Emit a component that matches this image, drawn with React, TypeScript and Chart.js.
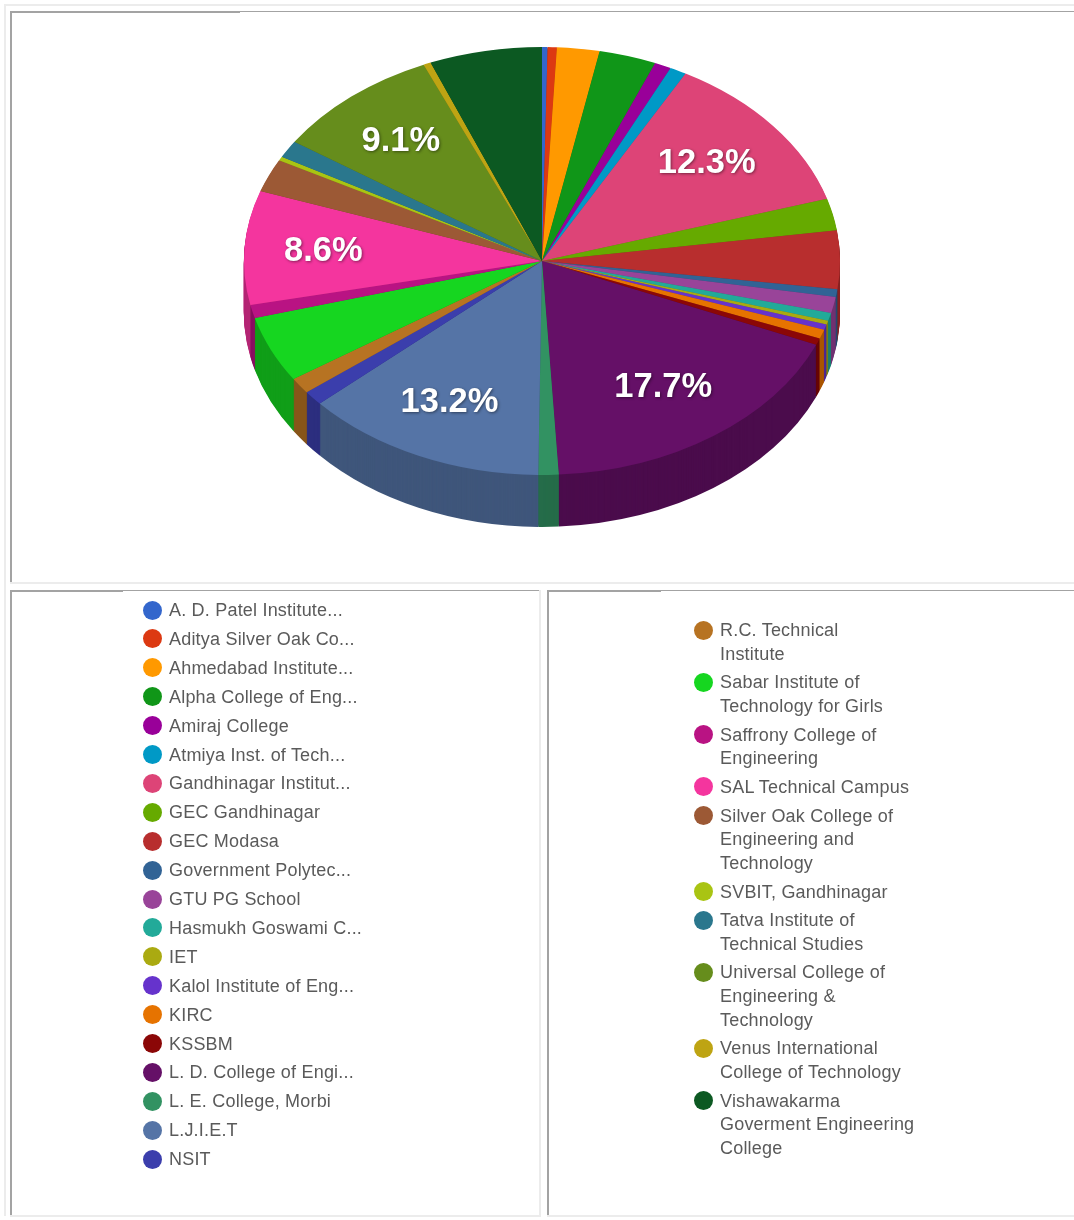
import React, { useEffect, useRef } from "react";
import { Chart, registerables } from "chart.js";

Chart.register(...registerables);

const legendLeft: string[] = [
  "A. D. Patel Institute...",
  "Aditya Silver Oak Co...",
  "Ahmedabad Institute...",
  "Alpha College of Eng...",
  "Amiraj College",
  "Atmiya Inst. of Tech...",
  "Gandhinagar Institut...",
  "GEC Gandhinagar",
  "GEC Modasa",
  "Government Polytec...",
  "GTU PG School",
  "Hasmukh Goswami C...",
  "IET",
  "Kalol Institute of Eng...",
  "KIRC",
  "KSSBM",
  "L. D. College of Engi...",
  "L. E. College, Morbi",
  "L.J.I.E.T",
  "NSIT",
];

const legendRight: string[][] = [
  ["R.C. Technical", "Institute"],
  ["Sabar Institute of", "Technology for Girls"],
  ["Saffrony College of", "Engineering"],
  ["SAL Technical Campus"],
  ["Silver Oak College of", "Engineering and", "Technology"],
  ["SVBIT, Gandhinagar"],
  ["Tatva Institute of", "Technical Studies"],
  ["Universal College of", "Engineering &", "Technology"],
  ["Venus International", "College of Technology"],
  ["Vishawakarma", "Goverment Engineering", "College"],
];

const categories: string[] = [...legendLeft, ...legendRight.map((l) => l.join(" "))];

const shares: number[] = [
  0.3, 0.5, 2.3, 3.1, 0.9, 0.9, 12.3, 2.4, 4.4, 0.6, 1.2, 0.6, 0.3, 0.4, 0.7, 0.5, 17.7, 1.1, 13.2, 1.1,
  1.2, 5.0, 1.0, 8.6, 2.5, 0.3, 1.3, 9.1, 0.4, 6.1,
];

const colors: string[] = [
  "#3366cc", "#dc3912", "#ff9900", "#109618", "#990099", "#0099c6", "#dd4477", "#66aa00", "#b82e2e", "#316395",
  "#994499", "#22aa99", "#aaaa11", "#6633cc", "#e67300", "#8b0707", "#651067", "#329262", "#5574a6", "#3b3eac",
  "#b77322", "#16d620", "#b91383", "#f4359e", "#9c5935", "#a9c413", "#2a778d", "#668d1c", "#bea413", "#0c5922",
];

const TILT = 0.718;
const DEPTH = 52;
const SHADE = 0.74;
const LABEL_MIN = 8;

function darken(hex: string, f: number): string {
  const n = parseInt(hex.slice(1), 16);
  return `rgb(${((n >> 16) & 255) * f},${((n >> 8) & 255) * f},${(n & 255) * f})`;
}

const tiltPlugin = {
  id: "tilt",
  beforeDatasetsDraw(chart: any) {
    const ctx = chart.ctx;
    const arcs = chart.getDatasetMeta(0).data;
    const cy = arcs[0].y;
    ctx.save();
    for (let d = DEPTH; d >= 1; d--) {
      ctx.save();
      ctx.translate(0, cy + d);
      ctx.scale(1, TILT);
      ctx.translate(0, -cy);
      arcs.forEach((a: any, i: number) => {
        ctx.beginPath();
        ctx.moveTo(a.x, a.y);
        ctx.arc(a.x, a.y, a.outerRadius, a.startAngle, a.endAngle);
        ctx.closePath();
        ctx.fillStyle = darken(colors[i], SHADE);
        ctx.fill();
      });
      ctx.restore();
    }
    ctx.translate(0, cy);
    ctx.scale(1, TILT);
    ctx.translate(0, -cy);
  },
  afterDatasetsDraw(chart: any) {
    const ctx = chart.ctx;
    ctx.restore();
    const arcs = chart.getDatasetMeta(0).data;
    ctx.save();
    ctx.font = "bold 34.5px 'Liberation Sans', Arial, sans-serif";
    ctx.textAlign = "center";
    ctx.textBaseline = "middle";
    ctx.fillStyle = "#ffffff";
    ctx.shadowColor = "rgba(0,0,0,0.45)";
    ctx.shadowBlur = 3;
    ctx.shadowOffsetX = 1;
    ctx.shadowOffsetY = 1;
    arcs.forEach((a: any, i: number) => {
      if (shares[i] < LABEL_MIN) return;
      const mid = (a.startAngle + a.endAngle) / 2;
      const r = a.outerRadius * 0.725;
      ctx.fillText(`${shares[i].toFixed(1)}%`, a.x - 3 + Math.cos(mid) * r, a.y + Math.sin(mid) * r * TILT);
    });
    ctx.restore();
  },
};

const font = "'Liberation Sans', Arial, sans-serif";
const GREY = "#a3a3a3";
const LIGHT = "#ececec";

function Rule({ x, y, w, h, c }: { x: number; y: number; w: number; h: number; c: string }) {
  return <div style={{ position: "absolute", left: x, top: y, width: w, height: h, background: c }} />;
}

function Dot({ x, y, c }: { x: number; y: number; c: string }) {
  return (
    <div
      style={{ position: "absolute", left: x - 9.5, top: y - 9.5, width: 19, height: 19, borderRadius: "50%", background: c }}
    />
  );
}

function Line({ x, y, t }: { x: number; y: number; t: string }) {
  return (
    <div
      style={{
        position: "absolute",
        left: x,
        top: y - 12,
        height: 24,
        lineHeight: "24px",
        whiteSpace: "nowrap",
        fontFamily: font,
        fontSize: 18,
        letterSpacing: 0.2,
        color: "#5a5a5a",
      }}
    >
      {t}
    </div>
  );
}

function rightLegend() {
  const out: React.ReactNode[] = [];
  let y = 630;
  legendRight.forEach((lines, i) => {
    out.push(<Dot key={`d${i}`} x={703} y={y} c={colors[legendLeft.length + i]} />);
    lines.forEach((t, j) => {
      out.push(<Line key={`l${i}-${j}`} x={720} y={y} t={t} />);
      if (j < lines.length - 1) y += 23.7;
    });
    y += 28.6;
  });
  return out;
}

export default function App() {
  const ref = useRef<HTMLCanvasElement>(null);
  useEffect(() => {
    const chart = new Chart(ref.current as HTMLCanvasElement, {
      type: "pie",
      data: {
        labels: categories,
        datasets: [
          { data: shares, backgroundColor: colors, borderWidth: 0, radius: 298, clip: false } as any,
        ],
      },
      options: {
        animation: false,
        responsive: false,
        devicePixelRatio: 1,
        events: [],
        layout: { padding: { bottom: 74 } },
        plugins: { legend: { display: false }, tooltip: { enabled: false } },
      },
      plugins: [tiltPlugin as any],
    });
    return () => chart.destroy();
  }, []);

  return (
    <div style={{ position: "absolute", left: 0, top: 0, width: 1074, height: 1220, overflow: "hidden", background: "#fff" }}>
      <Rule x={4} y={4} w={1070} h={2} c={LIGHT} />
      <Rule x={4} y={4} w={2} h={1212} c={LIGHT} />
      <Rule x={10} y={11} w={230} h={2} c={GREY} />
      <Rule x={240} y={11} w={608} h={1} c={GREY} />
      <Rule x={848} y={11} w={226} h={1} c={GREY} />
      <Rule x={10} y={11} w={2} h={572} c={GREY} />
      <Rule x={10} y={582} w={1064} h={2} c={LIGHT} />

      <Rule x={10} y={590} w={113} h={2} c={GREY} />
      <Rule x={123} y={590} w={417} h={1} c={GREY} />
      <Rule x={10} y={590} w={2} h={626} c={GREY} />
      <Rule x={539} y={590} w={2} h={626} c={LIGHT} />
      <Rule x={10} y={1215} w={531} h={2} c={LIGHT} />

      <Rule x={548} y={590} w={113} h={2} c={GREY} />
      <Rule x={661} y={590} w={413} h={1} c={GREY} />
      <Rule x={547} y={590} w={2} h={626} c={GREY} />
      <Rule x={547} y={1215} w={527} h={2} c={LIGHT} />

      <canvas
        ref={ref}
        width={1064}
        height={570}
        style={{ position: "absolute", left: 10, top: 13, width: 1064, height: 570, filter: "blur(0.6px)" }}
      />
      <div style={{ position: "absolute", inset: 0, filter: "blur(0.6px)" }}>
        {legendLeft.map((t, i) => {
          const y = 610 + i * 28.9;
          return (
            <React.Fragment key={t}>
              <Dot x={152} y={y} c={colors[i]} />
              <Line x={169} y={y} t={t} />
            </React.Fragment>
          );
        })}
        {rightLegend()}
      </div>
    </div>
  );
}
